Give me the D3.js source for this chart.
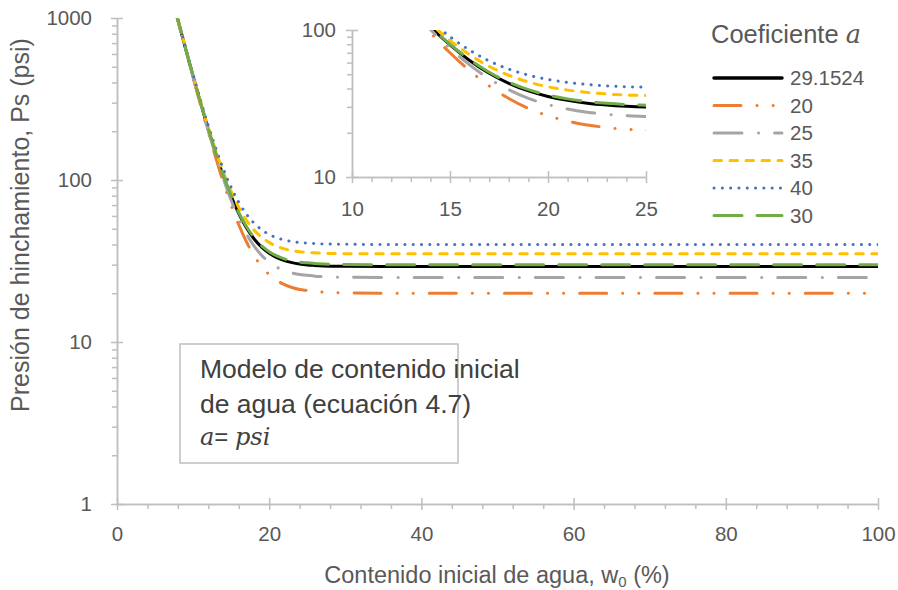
<!DOCTYPE html>
<html>
<head>
<meta charset="utf-8">
<script src="https://cdn.jsdelivr.net/npm/d3@7"></script>
<style>
  body { margin: 0; background: #fff; }
  svg { display: block; font-family: "Liberation Sans", Arial, sans-serif; }
</style>
</head>
<body>
<svg id="chart" width="898" height="590"></svg>
<script>
// contenido inicial de agua w0 (%)
const w0 = [7.5, 8, 9, 10, 11, 12, 13, 14, 15, 16, 17, 18, 19, 20, 21, 22, 23, 24, 25, 26, 28, 30, 35, 40, 50, 60, 70, 80, 90, 100]

// presion de hinchamiento Ps (psi), one list per coefficient a
const ps_a29 = [1196, 974, 650, 437, 297, 205, 145, 105, 79.2, 62.1, 50.8, 43.4, 38.5, 35.3, 33.2, 31.8, 30.9, 30.3, 29.9, 29.7, 29.4, 29.3, 29.2, 29.2, 29.2, 29.2, 29.2, 29.2, 29.2, 29.2]
const ps_a20 = [1187, 965, 641, 428, 288, 196, 136, 96, 70, 52.9, 41.6, 34.2, 29.3, 26.1, 24.0, 22.6, 21.7, 21.1, 20.8, 20.5, 20.2, 20.1, 20, 20, 20, 20, 20, 20, 20, 20]
const ps_a25 = [1192, 970, 646, 433, 293, 201, 141, 101, 75, 57.9, 46.6, 39.2, 34.3, 31.1, 29.0, 27.6, 26.7, 26.1, 25.8, 25.5, 25.2, 25.1, 25, 25, 25, 25, 25, 25, 25, 25]
const ps_a35 = [1202, 980, 656, 443, 303, 211, 151, 111, 85, 67.9, 56.6, 49.2, 44.3, 41.1, 39.0, 37.6, 36.7, 36.1, 35.8, 35.5, 35.2, 35.1, 35, 35, 35, 35, 35, 35, 35, 35]
const ps_a40 = [1207, 985, 661, 448, 308, 216, 156, 116, 90, 72.9, 61.6, 54.2, 49.3, 46.1, 44.0, 42.6, 41.7, 41.1, 40.8, 40.5, 40.2, 40.1, 40, 40, 40, 40, 40, 40, 40, 40]
const ps_a30 = [1197, 975, 651, 438, 298, 206, 146, 106, 80, 62.9, 51.6, 44.2, 39.3, 36.1, 34.0, 32.6, 31.7, 31.1, 30.8, 30.5, 30.2, 30.1, 30, 30, 30, 30, 30, 30, 30, 30]

const seriesNames = ['29.1524', '20', '25', '35', '40', '30']
const seriesValues = [ps_a29, ps_a20, ps_a25, ps_a35, ps_a40, ps_a30]

const xTicks = [0, 20, 40, 60, 80, 100]
const yTicks = [1, 10, 100, 1000]
const insetXTicks = [10, 15, 20, 25]
const insetYTicks = [10, 100]

// line styles (excel-ish)
const seriesColors = ['#000000', '#ED7D31', '#A5A5A5', '#FFC000', '#4472C4', '#70AD47']
const seriesDash = [null, '27 16 0.1 16 0.1 16', '28 16.5 0.1 16', '7.5 8.5', '0.1 8.2', '28 15']

const series = seriesNames.map((n, i) => ({
  name: n,
  color: seriesColors[i],
  dash: seriesDash[i],
  points: w0.map((w, j) => ({ w: w, ps: seriesValues[i][j] }))
}))

const svg = d3.select('#chart')
const axisColor = '#BFBFBF'
const textColor = '#595959'

// main scales
const x = d3.scaleLinear().domain([0, 100]).range([117, 878])
const y = d3.scaleLog().domain([1, 1000]).range([504, 18])
// inset scales
const xi = d3.scaleLinear().domain([10, 25]).range([352, 646])
const yi = d3.scaleLog().domain([10, 100]).range([177, 30])

// minor tick values
let yMinor = []
for (let dec = 1; dec < 1000; dec *= 10) for (let k = 2; k <= 9; k++) yMinor.push(dec * k)
let xMinor = d3.range(0, 101, 4).filter(v => v % 20 != 0)
let yiMinor = d3.range(20, 100, 10)
let xiMinor = d3.range(10, 26, 1).filter(v => v % 5 != 0)

const defs = svg.append('defs')
defs.append('clipPath').attr('id', 'clipMain')
  .append('rect').attr('x', 117).attr('y', 18).attr('width', 761).attr('height', 486)
defs.append('clipPath').attr('id', 'clipInset')
  .append('rect').attr('x', 352).attr('y', 30).attr('width', 294).attr('height', 147)

function styleAxis(g, size) {
  g.select('.domain').attr('stroke', axisColor).attr('stroke-width', 1.5)
  g.selectAll('.tick line').attr('stroke', axisColor).attr('stroke-width', 1.5)
  g.selectAll('.tick text').attr('fill', textColor).style('font-size', size + 'px')
}

function drawAxes(xs, ys, xT, yT, xM, yM, fontSize, xPad, yPad) {
  let x0 = xs.range()[0], y0 = ys.range()[0]
  // minor ticks first
  svg.append('g').attr('transform', `translate(0,${y0})`)
    .call(d3.axisBottom(xs).tickValues(xM).tickSizeInner(5).tickSizeOuter(0).tickFormat(''))
    .call(g => styleAxis(g, fontSize))
  svg.append('g').attr('transform', `translate(${x0},0)`)
    .call(d3.axisLeft(ys).tickValues(yM).tickSizeInner(5).tickSizeOuter(0).tickFormat(''))
    .call(g => styleAxis(g, fontSize))
  // major ticks cross the axis
  svg.append('g').attr('transform', `translate(0,${y0})`)
    .call(d3.axisBottom(xs).tickValues(xT).tickSizeInner(6).tickSizeOuter(0).tickPadding(xPad).tickFormat(d3.format('d')))
    .call(g => styleAxis(g, fontSize))
    .call(g => g.selectAll('.tick line').attr('y1', -6))
  svg.append('g').attr('transform', `translate(${x0},0)`)
    .call(d3.axisLeft(ys).tickValues(yT).tickSizeInner(6).tickSizeOuter(0).tickPadding(yPad).tickFormat(d3.format('d')))
    .call(g => styleAxis(g, fontSize))
    .call(g => g.selectAll('.tick line').attr('x1', 6))
}

function drawLines(xs, ys, clipId) {
  let line = d3.line()
    .x(d => xs(d.w))
    .y(d => ys(d.ps))
    .curve(d3.curveMonotoneX)
  svg.append('g').attr('clip-path', `url(#${clipId})`)
    .selectAll('path')
    .data(series)
    .enter()
    .append('path')
    .attr('d', d => line(d.points))
    .attr('fill', 'none')
    .attr('stroke', d => d.color)
    .attr('stroke-width', 3)
    .attr('stroke-linecap', d => d.dash ? 'round' : 'butt')
    .attr('stroke-dasharray', d => d.dash)
}

// main chart
drawAxes(x, y, xTicks, yTicks, xMinor, yMinor, 20.5, 16, 19)
drawLines(x, y, 'clipMain')

// inset chart
drawAxes(xi, yi, insetXTicks, insetYTicks, xiMinor, yiMinor, 20.5, 18, 10)
drawLines(xi, yi, 'clipInset')

// axis titles
svg.append('text')
  .attr('x', 497).attr('y', 583)
  .attr('text-anchor', 'middle')
  .attr('fill', textColor)
  .style('font-size', '23.5px')
  .call(t => {
    t.append('tspan').text('Contenido inicial de agua, w')
    t.append('tspan').attr('dy', 4).style('font-size', '15px').text('0')
    t.append('tspan').attr('dy', -4).text(' (%)')
  })

svg.append('text')
  .attr('transform', 'translate(29,225) rotate(-90)')
  .attr('text-anchor', 'middle')
  .attr('fill', textColor)
  .style('font-size', '25px')
  .text('Presión de hinchamiento, Ps (psi)')

// text box
svg.append('rect')
  .attr('x', 180).attr('y', 344).attr('width', 278).attr('height', 119)
  .attr('fill', '#fff').attr('stroke', axisColor).attr('stroke-width', 1.5)

let boxText = svg.append('g').attr('fill', '#404040').style('font-size', '26.5px')
boxText.append('text').attr('x', 200).attr('y', 378).text('Modelo de contenido inicial')
boxText.append('text').attr('x', 200).attr('y', 413).text('de agua (ecuación 4.7)')
boxText.append('text').attr('x', 200).attr('y', 445).style('font-size', '24px')
  .call(t => {
    t.append('tspan').style('font-family', '"DejaVu Serif", serif').style('font-style', 'italic').text('a')
    t.append('tspan').text('= ')
    t.append('tspan').style('font-family', '"DejaVu Serif", serif').style('font-style', 'italic').text('psi')
  })

// legend
let legend = svg.append('g')
legend.append('text')
  .attr('x', 711).attr('y', 43)
  .attr('fill', textColor)
  .style('font-size', '25.5px')
  .call(t => {
    t.append('tspan').text('Coeficiente ')
    t.append('tspan').style('font-family', '"DejaVu Serif", serif').style('font-style', 'italic').text('a')
  })

let items = legend.selectAll('g.item')
  .data(series)
  .enter()
  .append('g')
  .attr('class', 'item')
  .attr('transform', (d, i) => `translate(0,${78 + i * 27.5})`)

items.append('line')
  .attr('x1', 714).attr('x2', 782)
  .attr('stroke', d => d.color)
  .attr('stroke-width', d => d.dash ? 3 : 3.5)
  .attr('stroke-linecap', 'round')
  .attr('stroke-dasharray', d => d.dash)

items.append('text')
  .attr('x', 790).attr('y', 7)
  .attr('fill', textColor)
  .style('font-size', '20.5px')
  .text(d => d.name)
</script>
</body>
</html>
